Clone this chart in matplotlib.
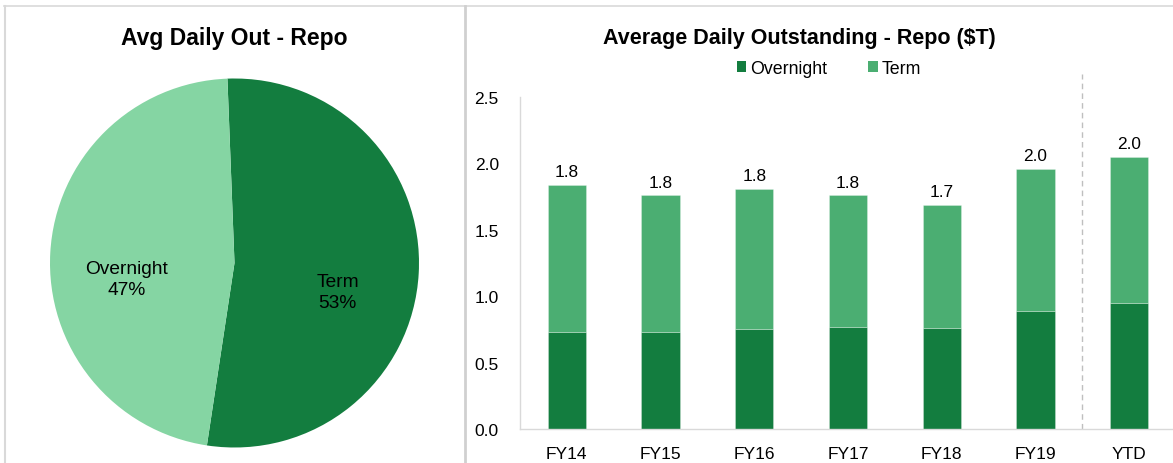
import matplotlib
matplotlib.use("Agg")
import matplotlib.pyplot as plt
from matplotlib.patches import Patch
from matplotlib.lines import Line2D
import numpy as np

plt.rcParams['font.family'] = ['Liberation Sans', 'DejaVu Sans']

# ---- data ----
pie_labels = ["Term", "Overnight"]
pie_values = [53, 47]

categories = ["FY14", "FY15", "FY16", "FY17", "FY18", "FY19", "YTD"]
overnight = [0.73, 0.73, 0.75, 0.77, 0.76, 0.89, 0.95]
term = [1.11, 1.03, 1.06, 0.99, 0.93, 1.07, 1.10]
y_ticks = [0.0, 0.5, 1.0, 1.5, 2.0, 2.5]

DARK = "#137D3F"
MID = "#4BAE72"
LIGHT = "#85D5A3"
GRID = "#D9D9D9"

W, H = 1173, 464
fig = plt.figure(figsize=(W / 100, H / 100), dpi=100)
fig.patch.set_facecolor("white")

def fx(px):
    return px / W

def fy(py):
    return 1 - py / H

# ---- panel borders ----
fig.add_artist(Line2D([fx(4), 1.0], [fy(7), fy(7)], color=GRID, lw=1.2, transform=fig.transFigure))
fig.add_artist(Line2D([fx(4.5), fx(4.5)], [fy(7), 0], color=GRID, lw=1.5, transform=fig.transFigure))
fig.add_artist(Line2D([fx(464.8), fx(464.8)], [fy(7), 0], color="#D0D0D0", lw=2.0, transform=fig.transFigure))

# ---- pie ----
cx, cy, r = 234.5, 264, 184.5
axp = fig.add_axes([fx(cx - r), fy(cy + r), r * 2 / W, r * 2 / H])
axp.pie(pie_values, colors=[DARK, LIGHT], startangle=92.2, counterclock=False,
        radius=1.0, wedgeprops=dict(linewidth=0))
axp.set_xlim(-1, 1)
axp.set_ylim(-1, 1)
axp.set_aspect('equal')
axp.axis('off')
axp.text(0.56, -0.155, f"{pie_labels[0]}\n{pie_values[0]}%", ha='center', va='center',
         fontsize=13.8, color='black', linespacing=1.3)
axp.text(-0.585, -0.085, f"{pie_labels[1]}\n{pie_values[1]}%", ha='center', va='center',
         fontsize=13.8, color='black', linespacing=1.3)
fig.text(fx(234), fy(39), "Avg Daily Out - Repo", ha='center', va='center',
         fontsize=16.5, fontweight='bold')

# ---- bars ----
axb = fig.add_axes([fx(520), fy(430), (1176 - 520) / W, 332 / H])
x = np.arange(len(categories))
edge = (1, 1, 1, 0.3)
b1 = axb.bar(x, overnight, width=0.41, color=DARK, label="Overnight", edgecolor=edge, linewidth=0.6)
totals = [o + t for o, t in zip(overnight, term)]
b2 = axb.bar(x, term, width=0.41, bottom=overnight, color=MID, label="Term", edgecolor=edge, linewidth=0.6)
axb.bar_label(b2, labels=[f"{v:.1f}" for v in totals], padding=4, fontsize=12.4)
axb.set_xlim(-0.5, len(categories) - 0.5)
axb.set_ylim(0, 2.5)
axb.set_yticks(y_ticks)
axb.set_yticklabels([f"{v:.1f}" for v in y_ticks])
axb.set_xticks(x)
axb.set_xticklabels(categories)
axb.tick_params(axis='y', length=0, pad=15.3, labelsize=12.5)
axb.tick_params(axis='x', length=0, pad=12, labelsize=12.5)
for s in ['top', 'right']:
    axb.spines[s].set_visible(False)
for s in ['left', 'bottom']:
    axb.spines[s].set_color(GRID)
    axb.spines[s].set_linewidth(1.0)
axb.plot([5.5, 5.5], [0, 1.069], color="#BFBFBF", lw=1.0, ls=(0, (4, 3)),
         transform=axb.get_xaxis_transform(), clip_on=False)

fig.text(fx(799.5), fy(38.5), "Average Daily Outstanding - Repo ($T)", ha='center', va='center',
         fontsize=15.5, fontweight='bold')

handles = [Patch(facecolor=DARK, edgecolor='none'), Patch(facecolor=MID, edgecolor='none')]
fig.legend(handles, ["Overnight", "Term"], loc='center left',
           bbox_to_anchor=(fx(736.7), fy(69.5)), ncol=2, frameon=False,
           fontsize=12.8, handlelength=0.55, handleheight=0.55, handletextpad=0.2,
           columnspacing=2.3, borderpad=0, borderaxespad=0)

fig.savefig("out.png", dpi=100, facecolor="white")
